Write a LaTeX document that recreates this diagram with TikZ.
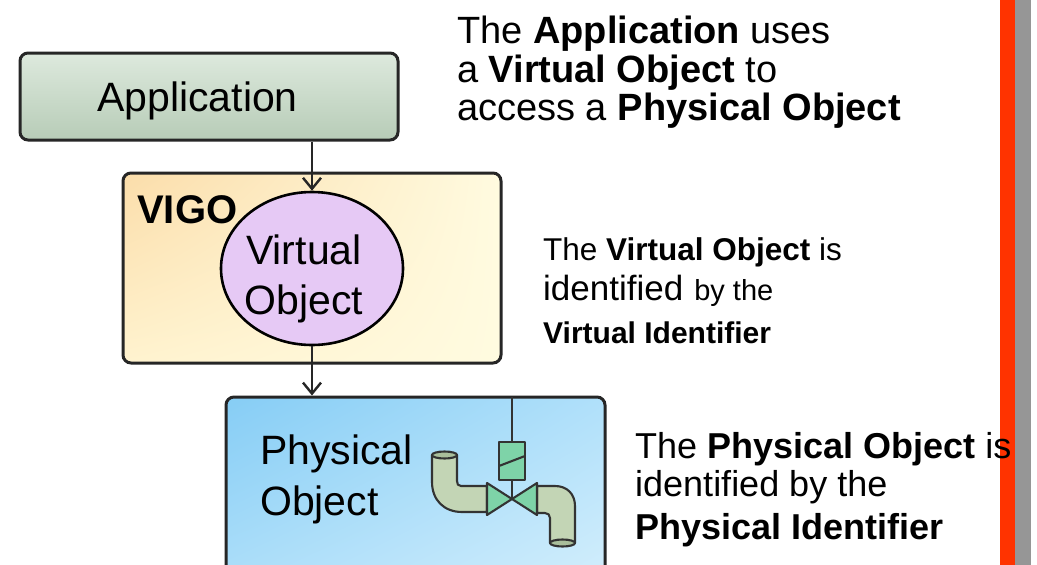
\documentclass[tikz,border=0pt]{standalone}
\usepackage{fontspec}
\setmainfont{Liberation Sans}
\usetikzlibrary{shapes.geometric,arrows.meta,shadings}
\definecolor{appTop}{HTML}{DDE9DD}
\definecolor{appBot}{HTML}{B7CCB7}
\definecolor{vigoA}{HTML}{FBDDAA}
\definecolor{vigoB}{HTML}{FFFBE0}
\definecolor{vigoC}{HTML}{FFF3CF}
\definecolor{physA}{HTML}{86CDF5}
\definecolor{physB}{HTML}{D5EFFC}
\definecolor{physC}{HTML}{B0E0FA}
\definecolor{voFill}{HTML}{E6C9F5}
\definecolor{pipeGreen}{HTML}{C3D5B5}
\definecolor{pipeDark}{HTML}{A9BE9B}
\definecolor{valveGreen}{HTML}{7ED3A8}
\definecolor{barRed}{HTML}{FF3300}
\definecolor{barGray}{HTML}{969696}
\begin{document}
\begin{tikzpicture}[x=1pt,y=-1pt,
  box/.style={draw=black!85, line width=3pt, rounded corners=8pt, inner sep=0pt},
  conn/.style={line width=2.6pt, draw=black!85, -{Straight Barb[length=11pt,width=18pt,line width=2.4pt]}},
  pipe/.style={draw=black!80, line width=2.1pt, fill=pipeGreen, line join=round},
  valve/.style={draw=black!80, line width=2.1pt, fill=valveGreen, line join=round},
  txt/.style={anchor=base west, inner sep=0pt},
  big/.style={font=\fontsize{41}{48}\selectfont},
]
\useasboundingbox (0,0) rectangle (1037,565);
\clip (0,0) rectangle (1037,565);
\fill[white] (0,0) rectangle (1037,565);

% side bars
\fill[barRed] (1000,0) rectangle (1015,565);
\fill[barGray] (1015,0) rectangle (1031,565);

% boxes
\node[box, minimum width=378pt, minimum height=87pt, top color=appTop, bottom color=appBot] (app) at (209,96.5) {};
\node[box, minimum width=378pt, minimum height=190pt, upper left=vigoA, upper right=vigoB, lower left=vigoC, lower right=vigoB] (vigo) at (312,268) {};
\node[box, minimum width=379pt, minimum height=200pt, upper left=physA, upper right=physC, lower left=physC, lower right=physB] (phys) at (415.5,497) {};
\node[ellipse, draw=black, line width=2.6pt, fill=voFill, minimum width=182pt, minimum height=153pt, inner sep=0pt] (vo) at (312,268.5) {};

% connectors
\draw[conn] (app.south -| vo.north) -- (vo.north);
\draw[conn] (vo.south) -- (vo.south |- phys.north);

% texts inside
\node[txt, big] (tapp) at (97,111) {Application};
\node[txt, font=\fontsize{40}{46}\selectfont\bfseries] (tvigo) at (137,223) {VIGO};
\node[anchor=base, inner sep=0pt, big] (tv1) at (304,264) {Virtual};
\node[anchor=base, inner sep=0pt, big] (tv2) at (304,314) {Object};
\node[txt, big] (tp1) at (260,464) {Physical};
\node[txt, big] (tp2) at (260,515) {Object};

% pipe illustration
\coordinate (stemtop) at (512,397);
\draw[line width=2.1pt, draw=black!80] (stemtop) -- (512,442);
\draw[line width=2.1pt, draw=black!80] (512,480) -- (512,499);
\draw[pipe] (487,486) -- (461,486) .. controls (458,486) and (457,484) .. (457,481) -- (457,455)
  -- (432,455) -- (432,482) .. controls (432,500) and (444,512) .. (462,512) -- (487,512) -- cycle;
\draw[pipe, fill=pipeDark] (444.5,455) ellipse [x radius=12.5, y radius=3.5];
\draw[pipe] (537,486) -- (555,486) .. controls (567,486) and (575,494) .. (575,506) -- (575,543)
  -- (550,543) -- (550,518) .. controls (550,515) and (548,513) .. (545,513) -- (537,513) -- cycle;
\draw[pipe, fill=pipeDark] (562.5,543) ellipse [x radius=12.5, y radius=3.5];
\draw[valve] (487,483) -- (487,515) -- (512,499) -- cycle;
\draw[valve] (537,483) -- (537,515) -- (512,499) -- cycle;
\draw[valve] (499,442) rectangle (525,480);
\draw[line width=2.1pt, draw=black!80] (499,466) -- (525,456);

% right texts
\begin{scope}[font=\fontsize{38}{46}\selectfont]
\node[txt] (a1) at (457,43) {The \textbf{Application} uses};
\node[txt] (a2) at (457,82) {a \textbf{Virtual Object} to};
\node[txt] (a3) at (457,120) {access a \textbf{Physical Object}};
\end{scope}
\node[txt, font=\fontsize{31.5}{37}\selectfont] (b1) at (543,260) {The \textbf{Virtual Object} is};
\node[txt] (b2) at (543,300) {{\fontsize{35}{40}\selectfont identified}\hspace{11pt}{\fontsize{29}{35}\selectfont by the}};
\node[txt, font=\fontsize{30}{36}\selectfont\bfseries] (b3) at (543,343) {Virtual Identifier};
\begin{scope}[font=\fontsize{36}{43}\selectfont]
\node[txt] (c1) at (635,458) {The \textbf{Physical Object} is};
\node[txt] (c2) at (635,496) {identified by the};
\node[txt] (c3) at (635,539) {\textbf{Physical Identifier}};
\end{scope}
\end{tikzpicture}
\end{document}
